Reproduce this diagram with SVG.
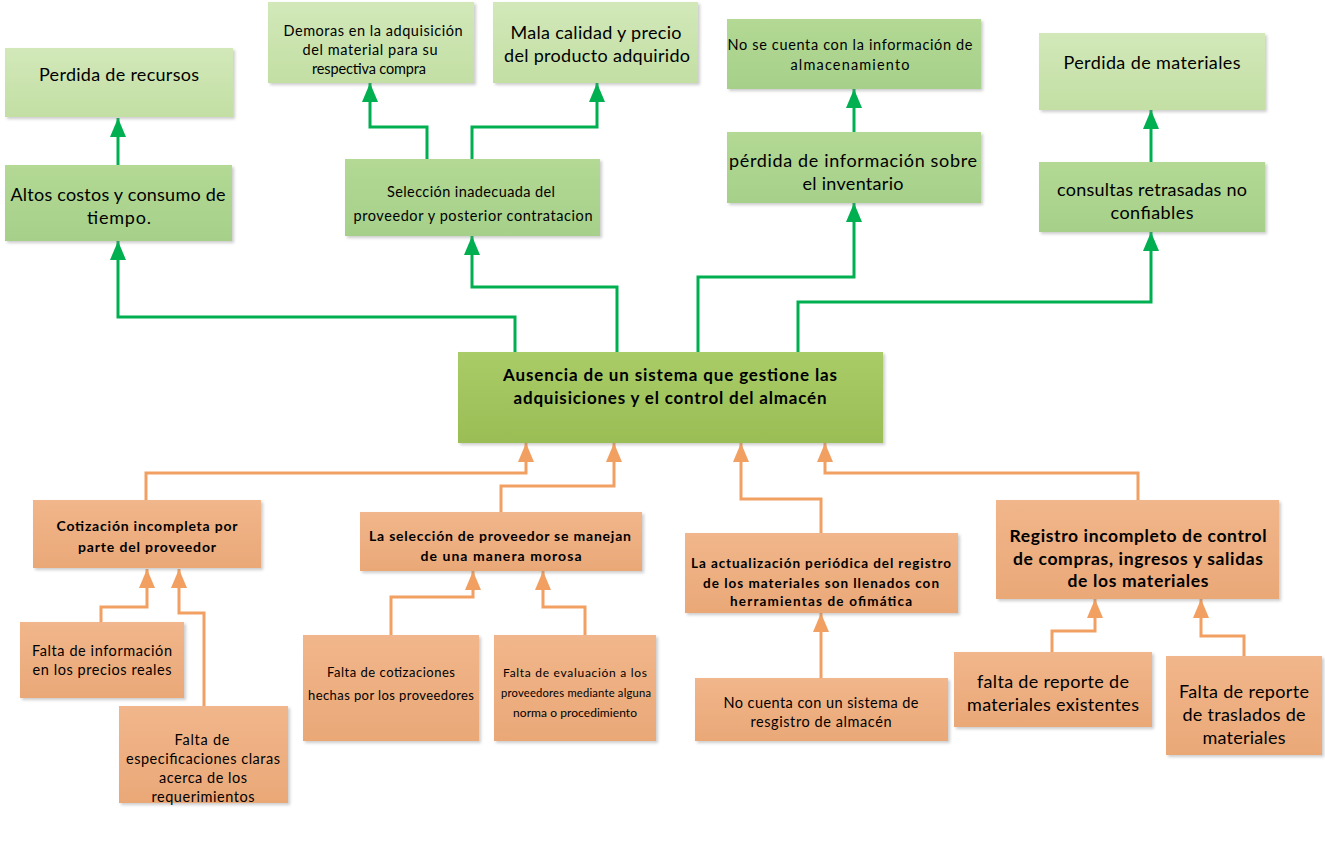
<svg xmlns="http://www.w3.org/2000/svg" width="1325" height="852" viewBox="0 0 1325 852">
<style>
text{font-family:Lato,"Liberation Sans",sans-serif;fill:#000;text-anchor:middle}
.lt{font-weight:400}
.b{font-weight:700}
.g{fill:none;stroke:#00b050;stroke-width:3}
.o{fill:none;stroke:#f2a062;stroke-width:3}
.n1{fill:url(#gLight)}
.n2{fill:url(#gMid)}
.nc{fill:url(#gCenter)}
.no{fill:url(#gOrange)}
</style>
<defs>
<linearGradient id="gLight" x1="0" y1="0" x2="0" y2="1"><stop offset="0" stop-color="#d2e8b9"/><stop offset="1" stop-color="#c3dfa4"/></linearGradient>
<linearGradient id="gMid" x1="0" y1="0" x2="0" y2="1"><stop offset="0" stop-color="#b3d994"/><stop offset="1" stop-color="#a6d08a"/></linearGradient>
<linearGradient id="gCenter" x1="0" y1="0" x2="0" y2="1"><stop offset="0" stop-color="#a9cc68"/><stop offset="1" stop-color="#9bbd55"/></linearGradient>
<linearGradient id="gOrange" x1="0" y1="0" x2="0" y2="1"><stop offset="0" stop-color="#f1b68b"/><stop offset="1" stop-color="#eaa877"/></linearGradient>
<filter id="sh" x="-5%" y="-5%" width="115%" height="125%"><feDropShadow dx="2" dy="2" stdDeviation="1.5" flood-color="#808080" flood-opacity="0.4"/></filter>
<marker id="ag" markerUnits="userSpaceOnUse" markerWidth="20" markerHeight="20" viewBox="0 0 20 16" refX="19" refY="8" orient="auto"><path d="M0,0 L19,8 L0,16 Z" fill="#00b050"/></marker>
<marker id="ao" markerUnits="userSpaceOnUse" markerWidth="20" markerHeight="20" viewBox="0 0 20 16" refX="19" refY="8" orient="auto"><path d="M0,0 L19,8 L0,16 Z" fill="#f2a062"/></marker>
</defs>
<rect width="1325" height="852" fill="#fff"/>

<g id="connectors">
<path class="g" marker-end="url(#ag)" d="M118,165 V118"/>
<path class="g" marker-end="url(#ag)" d="M515,352 V317 H118 V241"/>
<path class="g" marker-end="url(#ag)" d="M617,352 V287 H472 V236"/>
<path class="g" marker-end="url(#ag)" d="M427,159 V127 H370 V83"/>
<path class="g" marker-end="url(#ag)" d="M472,159 V127 H597 V83"/>
<path class="g" marker-end="url(#ag)" d="M698,352 V277 H854 V203"/>
<path class="g" marker-end="url(#ag)" d="M854,132 V89"/>
<path class="g" marker-end="url(#ag)" d="M798,352 V302 H1151 V232"/>
<path class="g" marker-end="url(#ag)" d="M1151,162 V110"/>

<path class="o" marker-end="url(#ao)" d="M146,500 V473 H526 V443"/>
<path class="o" marker-end="url(#ao)" d="M501,512 V486 H614 V443"/>
<path class="o" marker-end="url(#ao)" d="M821,533 V499 H741 V443"/>
<path class="o" marker-end="url(#ao)" d="M1138,500 V473 H825 V443"/>
<path class="o" marker-end="url(#ao)" d="M101,622 V607 H147 V569"/>
<path class="o" marker-end="url(#ao)" d="M204,706 V613 H179 V569"/>
<path class="o" marker-end="url(#ao)" d="M391,635 V597 H473 V571"/>
<path class="o" marker-end="url(#ao)" d="M585,635 V607 H543 V571"/>
<path class="o" marker-end="url(#ao)" d="M821,678 V613"/>
<path class="o" marker-end="url(#ao)" d="M1052,652 V631 H1095 V599"/>
<path class="o" marker-end="url(#ao)" d="M1244,656 V636 H1201 V599"/>
</g>

<g id="perdida-recursos"><rect class="n1" filter="url(#sh)" x="5" y="48" width="228" height="69"/><text x="119" y="81" font-size="18" textLength="160" lengthAdjust="spacing">Perdida de recursos</text></g>
<g id="altos-costos"><rect class="n2" filter="url(#sh)" x="5" y="165" width="227" height="76"/><text x="118" y="201" font-size="18" textLength="215" lengthAdjust="spacing">Altos costos y consumo de</text><text x="119" y="224" font-size="18" textLength="64" lengthAdjust="spacing">tiempo.</text></g>
<g id="demoras"><rect class="n1" filter="url(#sh)" x="268" y="2" width="206" height="81"/><text class="lt" x="373" y="36" font-size="14.5" textLength="179" lengthAdjust="spacing">Demoras en la adquisición</text><text class="lt" x="370" y="55" font-size="14.5" textLength="135" lengthAdjust="spacing">del material para su</text><text class="lt" x="369" y="74" font-size="14.5" textLength="114" lengthAdjust="spacing">respectiva compra</text></g>
<g id="mala-calidad"><rect class="n1" filter="url(#sh)" x="493" y="2" width="205" height="81"/><text x="596" y="39" font-size="18" textLength="171" lengthAdjust="spacing">Mala calidad y precio</text><text x="597" y="62" font-size="18" textLength="186" lengthAdjust="spacing">del producto adquirido</text></g>
<g id="seleccion-inadecuada"><rect class="n2" filter="url(#sh)" x="345" y="159" width="255" height="77"/><text class="lt" x="471" y="197" font-size="14.5" textLength="168" lengthAdjust="spacing">Selección inadecuada del</text><text class="lt" x="473" y="221" font-size="14.5" textLength="239" lengthAdjust="spacing">proveedor y posterior contratacion</text></g>
<g id="no-se-cuenta"><rect class="n2" filter="url(#sh)" x="727" y="19" width="254" height="70"/><text class="lt" x="850" y="50" font-size="14.5" textLength="245" lengthAdjust="spacing">No se cuenta con la información de</text><text class="lt" x="850" y="70" font-size="14.5" textLength="119" lengthAdjust="spacing">almacenamiento</text></g>
<g id="perdida-informacion"><rect class="n2" filter="url(#sh)" x="727" y="132" width="254" height="71"/><text x="853" y="167" font-size="18" textLength="248" lengthAdjust="spacing">pérdida de información sobre</text><text x="853" y="190" font-size="18" textLength="101" lengthAdjust="spacing">el inventario</text></g>
<g id="perdida-materiales"><rect class="n1" filter="url(#sh)" x="1039" y="33" width="226" height="77"/><text x="1152" y="69" font-size="18" textLength="177" lengthAdjust="spacing">Perdida de materiales</text></g>
<g id="consultas"><rect class="n2" filter="url(#sh)" x="1039" y="162" width="226" height="70"/><text x="1152" y="196" font-size="18" textLength="190" lengthAdjust="spacing">consultas retrasadas no</text><text x="1152" y="219" font-size="18" textLength="83" lengthAdjust="spacing">confiables</text></g>

<g id="centro"><rect class="nc" filter="url(#sh)" x="458" y="352" width="425" height="91"/><text class="b" x="670" y="381" font-size="17" textLength="334" lengthAdjust="spacing">Ausencia de un sistema que gestione las</text><text class="b" x="670" y="404" font-size="17" textLength="313" lengthAdjust="spacing">adquisiciones y el control del almacén</text></g>

<g id="cotizacion"><rect class="no" filter="url(#sh)" x="33" y="500" width="228" height="68"/><text class="b" x="147" y="531" font-size="14" textLength="181" lengthAdjust="spacing">Cotización incompleta por</text><text class="b" x="147" y="552" font-size="14" textLength="138" lengthAdjust="spacing">parte del proveedor</text></g>
<g id="seleccion-proveedor"><rect class="no" filter="url(#sh)" x="360" y="512" width="282" height="59"/><text class="b" x="500" y="541" font-size="14" textLength="262" lengthAdjust="spacing">La selección de proveedor se manejan</text><text class="b" x="501" y="561" font-size="14" textLength="161" lengthAdjust="spacing">de una manera morosa</text></g>
<g id="actualizacion"><rect class="no" filter="url(#sh)" x="685" y="533" width="273" height="80"/><text class="b" x="821" y="568" font-size="13.5" textLength="260" lengthAdjust="spacing">La actualización periódica del registro</text><text class="b" x="821" y="588" font-size="13.5" textLength="236" lengthAdjust="spacing">de los materiales son llenados con</text><text class="b" x="821" y="606" font-size="13.5" textLength="182" lengthAdjust="spacing">herramientas de ofimática</text></g>
<g id="registro"><rect class="no" filter="url(#sh)" x="996" y="500" width="283" height="99"/><text class="b" x="1138" y="542" font-size="17.5" textLength="257" lengthAdjust="spacing">Registro incompleto de control</text><text class="b" x="1138" y="565" font-size="17.5" textLength="250" lengthAdjust="spacing">de compras, ingresos y salidas</text><text class="b" x="1138" y="587" font-size="17.5" textLength="141" lengthAdjust="spacing">de los materiales</text></g>

<g id="falta-informacion"><rect class="no" filter="url(#sh)" x="20" y="622" width="164" height="76"/><text class="lt" x="102" y="656" font-size="14.5" textLength="140" lengthAdjust="spacing">Falta de información</text><text class="lt" x="102" y="675" font-size="14.5" textLength="139" lengthAdjust="spacing">en los precios reales</text></g>
<g id="falta-especificaciones"><rect class="no" filter="url(#sh)" x="119" y="706" width="169" height="97"/><text class="lt" x="202" y="745" font-size="14.5" textLength="55" lengthAdjust="spacing">Falta de</text><text class="lt" x="203" y="764" font-size="14.5" textLength="154" lengthAdjust="spacing">especificaciones claras</text><text class="lt" x="203" y="783" font-size="14.5" textLength="88" lengthAdjust="spacing">acerca de los</text><text class="lt" x="203" y="802" font-size="14.5" textLength="103" lengthAdjust="spacing">requerimientos</text></g>
<g id="falta-cotizaciones"><rect class="no" filter="url(#sh)" x="303" y="635" width="176" height="106"/><text class="lt" x="391" y="677" font-size="13" textLength="128" lengthAdjust="spacing">Falta de cotizaciones</text><text class="lt" x="391" y="700" font-size="13" textLength="166" lengthAdjust="spacing">hechas por los proveedores</text></g>
<g id="falta-evaluacion"><rect class="no" filter="url(#sh)" x="494" y="635" width="162" height="106"/><text class="lt" x="575" y="677" font-size="12" textLength="144" lengthAdjust="spacing">Falta de evaluación a los</text><text class="lt" x="576" y="697" font-size="11.2" textLength="150" lengthAdjust="spacing">proveedores mediante alguna</text><text class="lt" x="575" y="717" font-size="12" textLength="124" lengthAdjust="spacing">norma o procedimiento</text></g>
<g id="no-cuenta"><rect class="no" filter="url(#sh)" x="695" y="678" width="253" height="63"/><text class="lt" x="821" y="708" font-size="14.5" textLength="195" lengthAdjust="spacing">No cuenta con un sistema de</text><text class="lt" x="821" y="727" font-size="14.5" textLength="141" lengthAdjust="spacing">resgistro de almacén</text></g>
<g id="falta-reporte-existentes"><rect class="no" filter="url(#sh)" x="954" y="652" width="198" height="75"/><text x="1053" y="688" font-size="18" textLength="152" lengthAdjust="spacing">falta de reporte de</text><text x="1053" y="711" font-size="18" textLength="172" lengthAdjust="spacing">materiales existentes</text></g>
<g id="falta-reporte-traslados"><rect class="no" filter="url(#sh)" x="1166" y="656" width="156" height="99"/><text x="1244" y="698" font-size="18" textLength="130" lengthAdjust="spacing">Falta de reporte</text><text x="1244" y="721" font-size="18" textLength="123" lengthAdjust="spacing">de traslados de</text><text x="1244" y="744" font-size="18" textLength="83" lengthAdjust="spacing">materiales</text></g>
</svg>
